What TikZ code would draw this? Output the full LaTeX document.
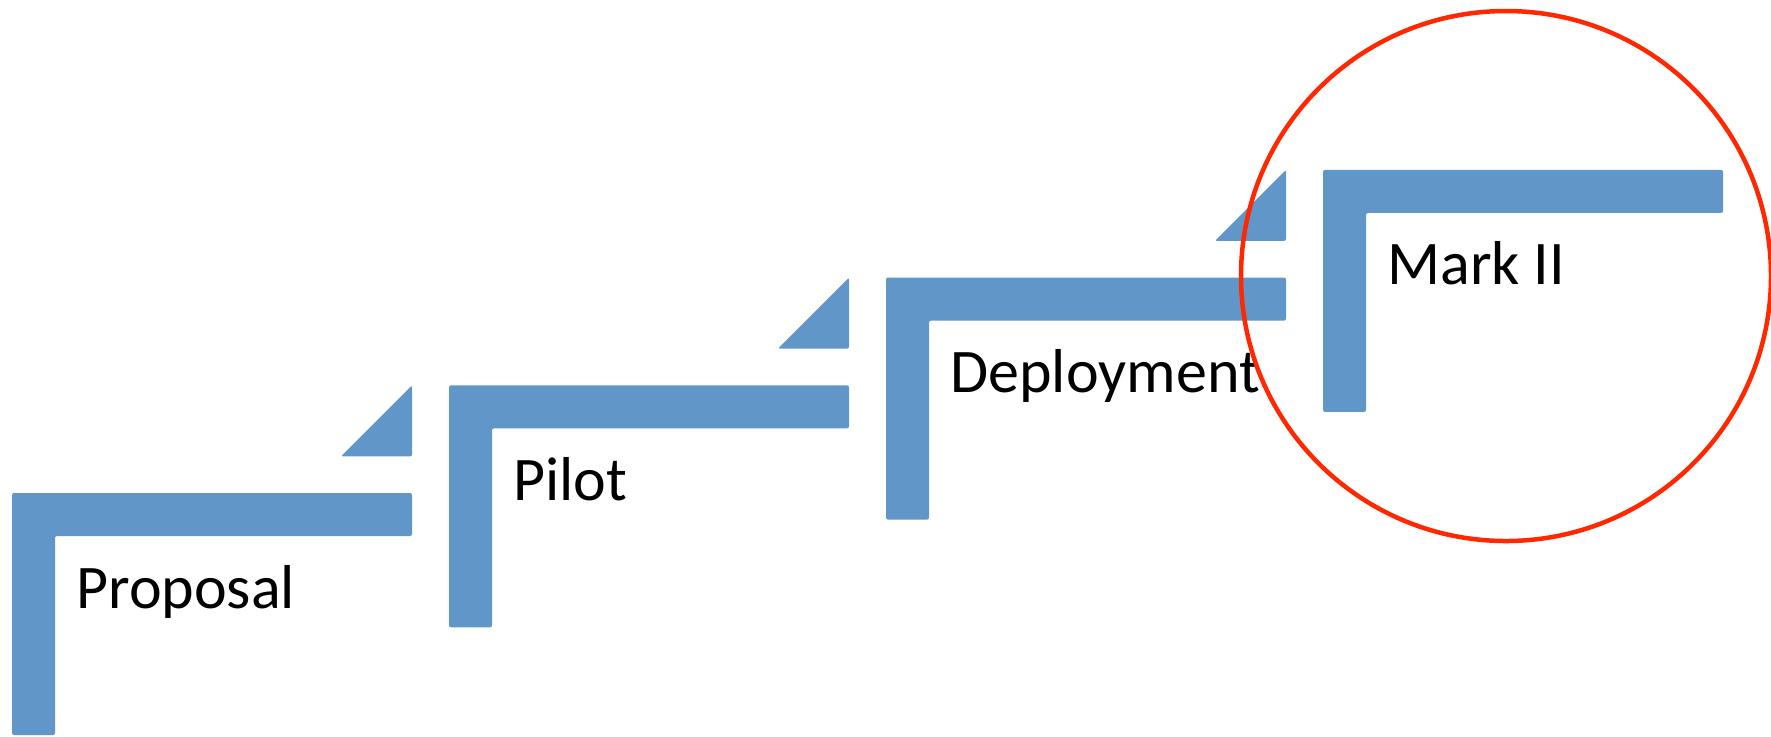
\documentclass[tikz,border=0pt]{standalone}
\usepackage{fontspec}
\setmainfont{Carlito}
\definecolor{stepblue}{RGB}{97,150,200}
\definecolor{ringred}{RGB}{255,40,0}
\begin{document}
\begin{tikzpicture}[x=0.5pt,y=-0.5pt,
  stepshape/.style={fill=stepblue, rounded corners=1pt},
  steptext/.style={font=\fontsize{31}{37}\selectfont, anchor=base west, inner sep=0pt, text=black},
  ring/.style={draw=ringred, line width=2.25pt}]
\useasboundingbox (0,0) rectangle (1771,736);
\foreach \k/\txt in {0/Proposal,1/Pilot,2/Deployment,3/Mark II} {
  \pgfmathsetmacro\L{12+437*\k}
  \pgfmathsetmacro\T{493-107.7*\k}
  \fill[stepshape] (\L,\T) -- ++(400,0) -- ++(0,43) -- ++(-357,0) -- ++(0,199) -- ++(-43,0) -- cycle;
  \node[steptext] (s\k) at (\L+64,\T+115) {\txt};
}
\foreach \k in {0,1,2} {
  \pgfmathsetmacro\R{412+437*\k}
  \pgfmathsetmacro\B{493-107.7*(\k+1)+71}
  \fill[stepshape] (\R-71,\B) -- (\R,\B) -- (\R,\B-71) -- cycle;
}
\node[ring, circle, minimum size=265pt, inner sep=0pt] (ring) at (1506,276) {};
\end{tikzpicture}
\end{document}
